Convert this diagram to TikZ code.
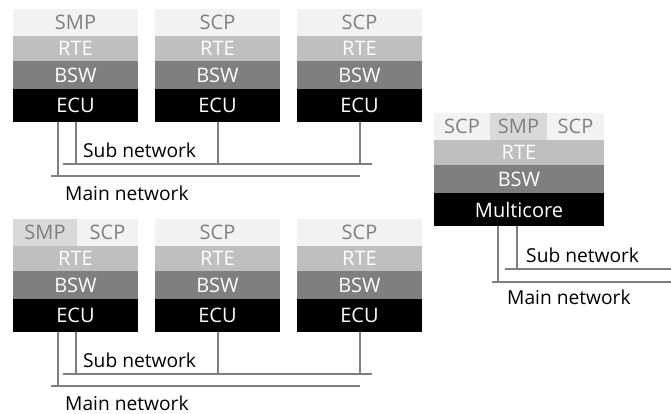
\documentclass[tikz,border=0pt]{standalone}
\usepackage{fontspec}
\setmainfont{Open Sans}
\usetikzlibrary{positioning}
\definecolor{appgray}{HTML}{F2F2F2}
\definecolor{smpgray}{HTML}{D9D9D9}
\definecolor{rtegray}{HTML}{BFBFBF}
\definecolor{bswgray}{HTML}{7F7F7F}
\definecolor{netgray}{HTML}{7F7F7F}
\tikzset{
  layer/.style={inner sep=0pt, outer sep=0pt, minimum width=125pt, text=white, font=\fontsize{20}{22}\selectfont},
  app/.style={layer, fill=appgray, text=bswgray, minimum height=27pt},
  rte/.style={layer, fill=rtegray, minimum height=25pt},
  bsw/.style={layer, fill=bswgray, minimum height=28pt},
  ecu/.style={layer, fill=black, minimum height=33pt},
  net/.style={draw=netgray, line width=2pt},
  netlabel/.style={anchor=west, inner sep=0pt, font=\fontsize{19.2}{21}\selectfont}
}
\begin{document}
\begin{tikzpicture}[x=1pt,y=-1pt]
\useasboundingbox (0,0) rectangle (671,414);

\node[app, anchor=north west] (smpA) at (13,9) {SMP};
\node[rte, below=0pt of smpA] (rteA) {RTE};
\node[bsw, below=0pt of rteA] (bswA) {BSW};
\node[ecu, below=0pt of bswA] (ecuA) {ECU};

\node[app, anchor=north west] (scpB) at (155,9) {SCP};
\node[rte, below=0pt of scpB] (rteB) {RTE};
\node[bsw, below=0pt of rteB] (bswB) {BSW};
\node[ecu, below=0pt of bswB] (ecuB) {ECU};

\node[app, anchor=north west] (scpC) at (297,9) {SCP};
\node[rte, below=0pt of scpC] (rteC) {RTE};
\node[bsw, below=0pt of rteC] (bswC) {BSW};
\node[ecu, below=0pt of bswC] (ecuC) {ECU};

\coordinate (mainAw) at (51,176);
\coordinate (mainAe) at (360,176);
\coordinate (mainA) at (58,176);
\coordinate (subAw) at (63,164);
\coordinate (subAe) at (372,164);
\coordinate (subA) at (76,164);
\draw[net] (mainAw) -- (mainAe);
\draw[net] (subAw) -- (subAe);
\draw[net] (mainA |- ecuA.south) -- (mainA);
\draw[net] (subA |- ecuA.south) -- (subA);
\draw[net] (ecuB.south) -- (ecuB.south |- subA);
\draw[net] (ecuC.south) -- (ecuC.south |- subA);
\node[netlabel] (subtextA) at (83,150) {Sub network};
\node[netlabel] (maintextA) at (65,193) {Main network};

\node[app, fill=smpgray, minimum width=64pt, anchor=north west] (smpD) at (13,219) {SMP};
\node[app, minimum width=61pt, right=0pt of smpD] (scpD) {SCP};
\node[rte, anchor=north west] (rteD) at (smpD.south west) {RTE};
\node[bsw, below=0pt of rteD] (bswD) {BSW};
\node[ecu, below=0pt of bswD] (ecuD) {ECU};

\node[app, anchor=north west] (scpE) at (155,219) {SCP};
\node[rte, below=0pt of scpE] (rteE) {RTE};
\node[bsw, below=0pt of rteE] (bswE) {BSW};
\node[ecu, below=0pt of bswE] (ecuE) {ECU};

\node[app, anchor=north west] (scpF) at (297,219) {SCP};
\node[rte, below=0pt of scpF] (rteF) {RTE};
\node[bsw, below=0pt of rteF] (bswF) {BSW};
\node[ecu, below=0pt of bswF] (ecuF) {ECU};

\coordinate (mainDw) at (51,386);
\coordinate (mainDe) at (360,386);
\coordinate (mainD) at (58,386);
\coordinate (subDw) at (63,374);
\coordinate (subDe) at (372,374);
\coordinate (subD) at (76,374);
\draw[net] (mainDw) -- (mainDe);
\draw[net] (subDw) -- (subDe);
\draw[net] (mainD |- ecuD.south) -- (mainD);
\draw[net] (subD |- ecuD.south) -- (subD);
\draw[net] (ecuE.south) -- (ecuE.south |- subD);
\draw[net] (ecuF.south) -- (ecuF.south |- subD);
\node[netlabel] (subtextD) at (83,360) {Sub network};
\node[netlabel] (maintextD) at (65,403) {Main network};

\node[app, minimum width=56pt, anchor=north west] (scpG) at (434,113) {SCP};
\node[app, fill=smpgray, minimum width=57pt, right=0pt of scpG] (smpG) {SMP};
\node[app, minimum width=57pt, right=0pt of smpG] (scpH) {SCP};
\node[rte, minimum width=170pt, anchor=north west] (rteG) at (scpG.south west) {RTE};
\node[bsw, minimum width=170pt, below=0pt of rteG] (bswG) {BSW};
\node[ecu, minimum width=170pt, below=0pt of bswG] (multiG) {Multicore};

\coordinate (mainGw) at (492,282);
\coordinate (mainGe) at (671,282);
\coordinate (mainG) at (498,282);
\coordinate (subGw) at (505,269);
\coordinate (subGe) at (671,269);
\coordinate (subG) at (517,269);
\draw[net] (mainGw) -- (mainGe);
\draw[net] (subGw) -- (subGe);
\draw[net] (mainG |- multiG.south) -- (mainG);
\draw[net] (subG |- multiG.south) -- (subG);
\node[netlabel] (subtextG) at (526,255) {Sub network};
\node[netlabel] (maintextG) at (507,297) {Main network};
\end{tikzpicture}
\end{document}
